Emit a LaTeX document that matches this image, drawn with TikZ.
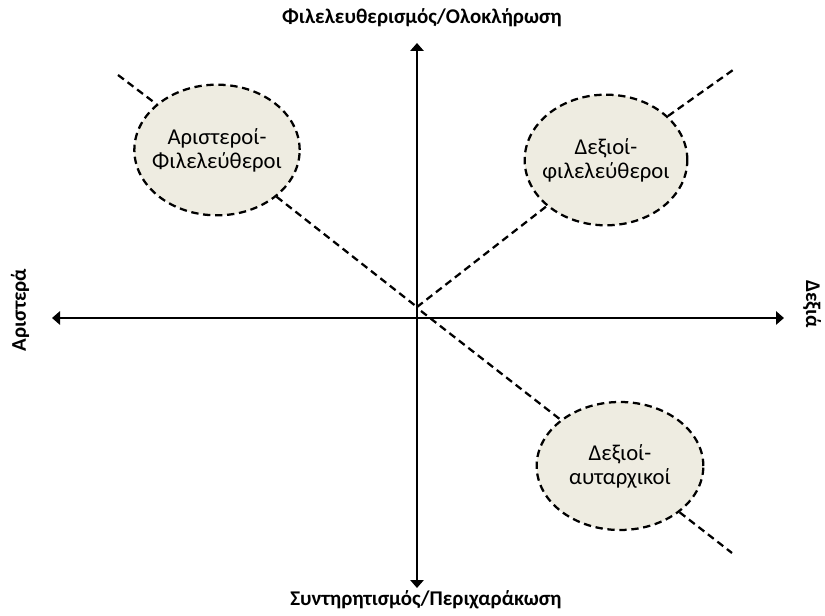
\documentclass[tikz,border=0pt]{standalone}
\usepackage{fontspec}
\setmainfont{Carlito}
\usetikzlibrary{arrows.meta,shapes.geometric}

\tikzset{
  axis/.style={line width=1.7pt,{Triangle[length=6pt,width=10pt]}-{Triangle[length=6pt,width=10pt]}},
  dline/.style={line width=1.7pt,dash pattern=on 5.5pt off 3.5pt},
  group/.style={ellipse,draw,dline,fill=beige,inner sep=0pt},
  gtext/.style={align=center,font=\fontsize{17}{18}\selectfont},
  title/.style={font=\fontsize{15.7}{17}\selectfont\bfseries}
}
\definecolor{beige}{HTML}{EEECE1}

\begin{document}
\begin{tikzpicture}[x=0.75pt,y=-0.75pt]
    \useasboundingbox (0,0) rectangle (825,616);
    % axes
    \coordinate (W) at (52,318);
    \coordinate (E) at (784,318);
    \coordinate (N) at (417,43);
    \coordinate (S) at (417,588);
    \draw[axis] (W)--(E);
    \draw[axis] (S)--(N);
    \node[title] (top) at (422,18) {Φιλελευθερισμός/Ολοκλήρωση};
    \node[title] (bot) at (426,600) {Συντηρητισμός/Περιχαράκωση};
    \node[title,rotate=90] (left) at (20,310) {Αριστερά};
    \node[title,rotate=-90] (right) at (812,304) {Δεξιά};
    % groups
    \node[group,minimum width=124pt,minimum height=98pt,label={[gtext]center:Αριστεροί-\\Φιλελεύθεροι}] at (217,150) (AF) {};
    \node[group,minimum width=122pt,minimum height=98pt,label={[gtext]center:Δεξιοί-\\φιλελεύθεροι}] at (606,160) (DF) {};
    \node[group,minimum width=125pt,minimum height=96pt,label={[gtext]center:Δεξιοί-\\αυταρχικοί}] at (620,466) (DA) {};
    % dashed lines
    \coordinate (a) at (118,75);
    \coordinate (b) at (733,70);
    \coordinate (c) at (732,553);
    \coordinate (o1) at (417,307);
    \coordinate (o2) at (421,311);
    \draw[dline] (a)--(AF);
    \draw[dline] (AF)--(o1);
    \draw[dline] (o1)--(DF);
    \draw[dline] (DF)--(b);
    \draw[dline] (o2)--(DA);
    \draw[dline] (DA)--(c);
\end{tikzpicture}
\end{document}
